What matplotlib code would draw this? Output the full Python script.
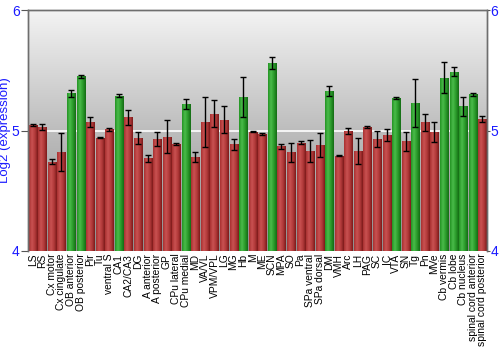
import numpy as np
import matplotlib.pyplot as plt
from matplotlib.colors import LinearSegmentedColormap

plt.rcParams['font.family'] = ['Liberation Sans', 'DejaVu Sans']

# --- data --- #
regions = ["LS", "RS", "Cx motor", "Cx cingulate", "OB anterior", "OB posterior",
           "Pir", "Tu", "ventral S", "CA1", "CA2/CA3", "DG", "A anterior",
           "A posterior", "GP", "CPu lateral", "CPu medial", "MD", "VA/VL",
           "VPM/VPL", "LG", "MG", "Hb", "M", "ME", "SCN", "MPA", "SO", "Pa",
           "SPa ventral", "SPa dorsal", "DM", "VMH", "Arc", "LH", "PAG", "SC",
           "IC", "VTA", "SN", "Tg", "Pn", "MVe", "Cb vermis", "Cb lobe",
           "Cb nucleus", "spinal cord anterior", "spinal cord posterior"]
log2_expr = [5.046, 5.03, 4.74, 4.82, 5.31, 5.45,
             5.07, 4.94, 5.01, 5.29, 5.11, 4.935, 4.77,
             4.93, 4.95, 4.89, 5.22, 4.78, 5.07,
             5.14, 5.09, 4.885, 5.28, 4.99, 4.97, 5.56, 4.87, 4.82, 4.90,
             4.83, 4.88, 5.33, 4.79, 5.0, 4.83, 5.03, 4.93,
             4.96, 5.27, 4.91, 5.23, 5.07, 4.99, 5.44, 5.49,
             5.20, 5.30, 5.095]
err = [0.01, 0.025, 0.02, 0.16, 0.03, 0.01,
       0.04, 0.003, 0.01, 0.01, 0.06, 0.05, 0.03,
       0.06, 0.14, 0.01, 0.045, 0.04, 0.21,
       0.11, 0.11, 0.045, 0.165, 0.005, 0.01, 0.05, 0.02, 0.08, 0.01,
       0.09, 0.10, 0.04, 0.005, 0.025, 0.11, 0.005, 0.07,
       0.05, 0.01, 0.08, 0.2, 0.07, 0.085, 0.13, 0.04,
       0.08, 0.01, 0.025]
enriched = {"OB anterior", "OB posterior", "CA1", "CPu medial", "Hb", "SCN",
            "DM", "VTA", "Tg", "Cb vermis", "Cb lobe", "Cb nucleus",
            "spinal cord anterior"}
# ------------ #

red_cm = LinearSegmentedColormap.from_list(
    "red_bar", ["#a83030", "#c95252", "#b23a3a", "#7c1a1a"])
green_cm = LinearSegmentedColormap.from_list(
    "green_bar", ["#249424", "#4abb4a", "#2a9a2a", "#146c14"])
bg_cm = LinearSegmentedColormap.from_list("bg", ["#8e8e8e", "#bdbdbd", "#f3f3f3"])

blue = "#1a1aff"
ymin, ymax = 4, 6

fig = plt.figure(figsize=(5, 3.5), dpi=100)
ax = fig.add_axes([0.056, 0.283, 0.918, 0.688])

x = np.arange(len(regions))
ax.set_xlim(-0.5, len(regions) - 0.5)
ax.set_ylim(ymin, ymax)

# vertical gradient background
ax.imshow(np.linspace(0, 1, 256).reshape(-1, 1), cmap=bg_cm, origin="lower",
          aspect="auto", extent=(-0.5, len(regions) - 0.5, ymin, ymax), zorder=0)
ax.axhline(5, color="white", lw=1.2, zorder=1)

heights = [v - ymin for v in log2_expr]
bars = ax.bar(x, heights, bottom=ymin, width=0.84, color="none",
              edgecolor="none", zorder=2)

shade = np.linspace(0, 1, 64).reshape(1, -1)
for name, b in zip(regions, bars):
    cm = green_cm if name in enriched else red_cm
    x0 = b.get_x()
    im = ax.imshow(shade, cmap=cm, aspect="auto", zorder=2,
                   extent=(x0, x0 + b.get_width(), ymin, ymin + b.get_height()))
    im.set_clip_path(b)

ax.errorbar(x, log2_expr, yerr=err, fmt="none", ecolor="black", elinewidth=1,
            capsize=2, capthick=1, zorder=3)

ax.set_xticks(x)
ax.set_xticklabels(regions, rotation=90, fontsize=7.4)
ax.tick_params(axis="x", length=0, pad=2)

ax.set_yticks([4, 5, 6])
ax.tick_params(axis="y", labelcolor=blue, labelsize=10, color="#555555",
               length=5, pad=1)
ax.set_ylabel("Log2 (expression)", color=blue, fontsize=9.5)
ax.yaxis.set_label_coords(-0.036, 0.5)

# same scale repeated on the right edge
ax_r = ax.twinx()
ax_r.set_ylim(ymin, ymax)
ax_r.set_yticks([4, 5, 6])
ax_r.tick_params(axis="y", labelcolor=blue, labelsize=10, color="#555555",
                 length=2, pad=0.5)

for a in (ax, ax_r):
    for side in ["left", "right", "top"]:
        a.spines[side].set_color("#6e6e6e")
        a.spines[side].set_linewidth(1)
    a.spines["bottom"].set_visible(False)

fig.savefig("out.png", dpi=100)
